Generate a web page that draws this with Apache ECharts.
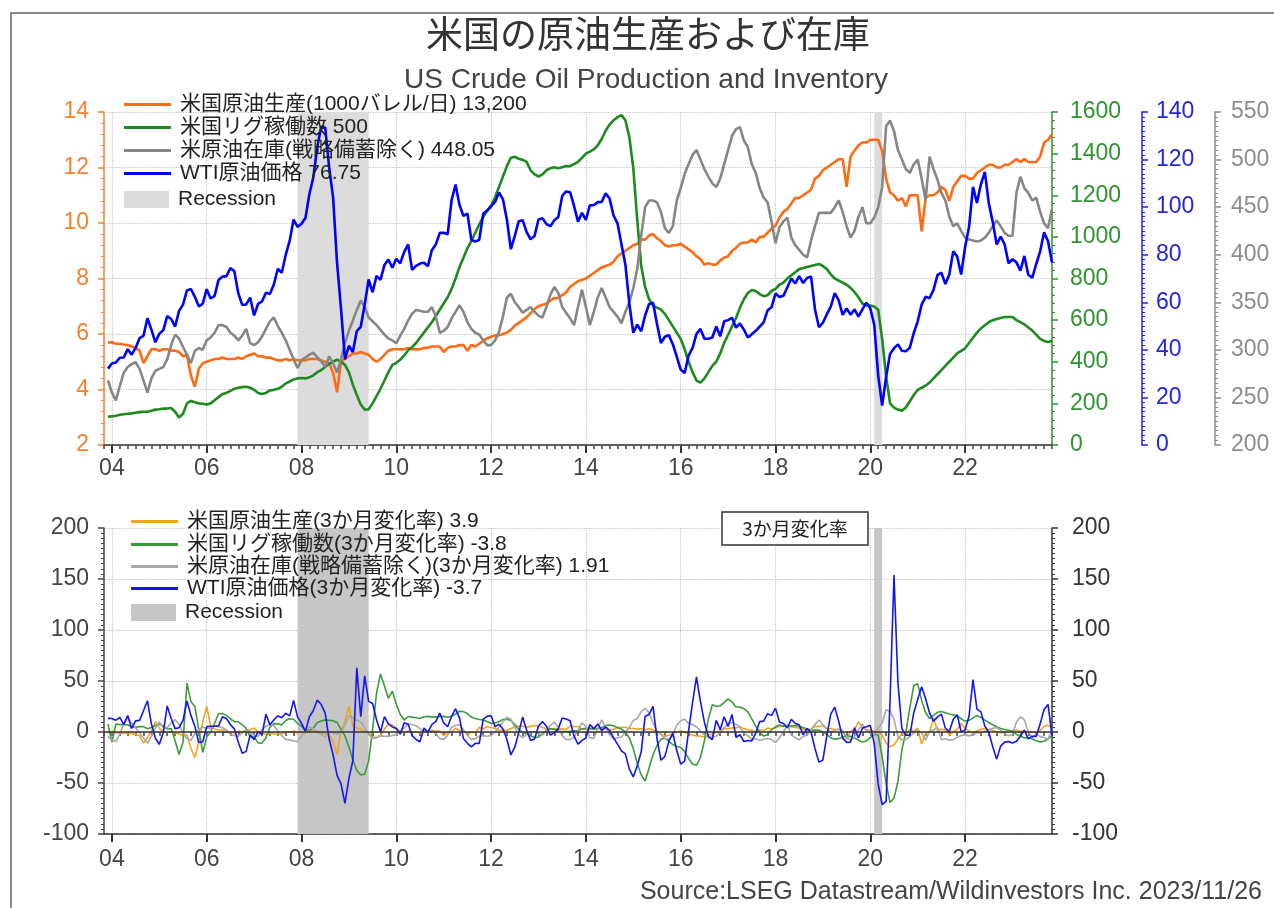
<!DOCTYPE html>
<html>
<head>
<meta charset="utf-8">
<script src="https://cdn.jsdelivr.net/npm/echarts@6/dist/echarts.min.js"></script>
<style>
html,body{margin:0;padding:0;background:#fff;}
#chart{width:1274px;height:908px;}
</style>
</head>
<body>
<div id="chart"></div>
<script>
// Monthly observations, Dec 2003 .. Nov 2023 (one row per year)

// WTI crude, USD/bbl
const wti = [
  32.1,
  34.3, 34.7, 36.7, 36.8, 40.3, 38.0, 40.8, 44.9, 45.9, 53.3, 48.5, 43.2,
  46.8, 48.2, 54.2, 53.0, 49.8, 56.4, 59.0, 65.0, 65.6, 62.3, 58.3, 59.4,
  65.5, 61.6, 62.7, 69.4, 70.8, 71.0, 74.4, 73.0, 63.8, 58.9, 59.1, 62.0,
  54.5, 59.3, 60.4, 64.0, 63.5, 67.5, 74.1, 72.4, 79.9, 85.8, 94.8, 91.7,
  93.0, 95.4, 105.5, 112.6, 125.4, 133.9, 133.4, 116.7, 104.1, 76.6, 57.3, 36.0,
  41.7, 39.1, 47.9, 49.7, 59.0, 69.6, 64.2, 71.1, 69.4, 75.7, 78.0, 74.5,
  78.3, 76.4, 81.2, 84.3, 73.7, 75.3, 76.3, 76.6, 75.2, 81.9, 84.3, 89.2,
  89.2, 88.6, 102.9, 109.5, 100.9, 96.3, 97.3, 86.3, 85.5, 86.3, 97.2, 98.6,
  100.3, 102.2, 106.2, 103.3, 94.7, 82.3, 87.9, 94.1, 94.5, 89.5, 86.5, 87.9,
  94.8, 95.3, 92.9, 92.0, 94.5, 95.8, 104.7, 106.6, 106.3, 100.5, 93.9, 97.6,
  94.6, 100.8, 100.8, 102.1, 102.2, 105.8, 103.6, 96.5, 93.2, 84.4, 75.8, 59.3,
  47.2, 50.6, 47.8, 54.5, 59.3, 59.8, 50.9, 42.9, 45.5, 46.2, 42.4, 37.2,
  31.7, 30.3, 37.6, 40.8, 46.7, 48.8, 44.7, 44.7, 45.2, 49.8, 45.7, 52.0,
  52.5, 53.5, 49.3, 51.1, 48.5, 45.2, 46.6, 48.0, 49.8, 51.6, 56.6, 57.9,
  63.7, 62.2, 62.7, 66.3, 70.0, 67.9, 71.0, 68.1, 70.2, 70.8, 57.0, 49.5,
  51.4, 55.0, 58.2, 63.9, 60.8, 54.7, 57.4, 54.8, 57.0, 54.0, 57.0, 59.9,
  57.5, 50.5, 29.2, 16.6, 28.6, 38.3, 40.7, 42.3, 39.6, 39.4, 40.9, 47.0,
  52.0, 59.0, 62.3, 61.7, 65.2, 71.4, 72.5, 67.7, 71.7, 81.5, 79.2, 71.7,
  83.2, 91.6, 108.5, 101.8, 109.6, 114.8, 101.6, 93.7, 84.3, 87.6, 84.4, 76.4,
  78.1, 76.8, 73.3, 79.5, 71.6, 70.3, 76.1, 81.4, 89.4, 85.6, 76.75
];

// US crude production, million bbl/day
const production = [
  5.70,
  5.70, 5.65, 5.65, 5.62, 5.60, 5.55, 5.50, 5.40, 4.95, 5.20, 5.45, 5.45,
  5.40, 5.45, 5.45, 5.40, 5.40, 5.35, 5.20, 5.25, 4.50, 4.10, 4.75, 4.95,
  5.00, 5.05, 5.10, 5.10, 5.15, 5.10, 5.10, 5.10, 5.15, 5.10, 5.20, 5.25,
  5.30, 5.20, 5.20, 5.15, 5.15, 5.10, 5.05, 5.05, 5.10, 5.05, 5.10, 5.05,
  5.05, 5.05, 5.10, 5.10, 5.10, 5.05, 5.00, 4.95, 4.60, 3.90, 5.00, 5.10,
  5.20, 5.30, 5.30, 5.35, 5.30, 5.25, 5.10, 5.00, 5.10, 5.25, 5.40, 5.45,
  5.45, 5.45, 5.45, 5.50, 5.45, 5.45, 5.45, 5.50, 5.50, 5.55, 5.55, 5.55,
  5.35, 5.50, 5.55, 5.55, 5.60, 5.60, 5.40, 5.60, 5.55, 5.65, 5.75, 5.85,
  5.90, 5.95, 5.95, 6.00, 6.05, 6.15, 6.30, 6.40, 6.50, 6.60, 6.75, 6.90,
  7.00, 7.05, 7.10, 7.20, 7.30, 7.30, 7.40, 7.50, 7.70, 7.80, 7.90, 7.95,
  8.00, 8.10, 8.20, 8.30, 8.40, 8.45, 8.50, 8.60, 8.80, 8.90, 9.00, 9.10,
  9.20, 9.25, 9.40, 9.40, 9.55, 9.60, 9.45, 9.35, 9.20, 9.15, 9.20, 9.20,
  9.25, 9.15, 9.05, 8.95, 8.80, 8.70, 8.50, 8.55, 8.50, 8.50, 8.65, 8.75,
  8.80, 9.00, 9.10, 9.25, 9.30, 9.30, 9.40, 9.30, 9.50, 9.50, 9.65, 9.80,
  9.90, 10.20, 10.40, 10.50, 10.70, 10.90, 10.90, 11.00, 11.10, 11.20, 11.60, 11.70,
  11.90, 12.00, 12.10, 12.20, 12.30, 12.30, 11.30, 12.40, 12.60, 12.80, 12.90, 12.90,
  13.00, 13.00, 13.00, 12.60, 11.60, 11.10, 11.00, 10.80, 10.90, 10.60, 11.00, 11.00,
  11.00, 9.70, 10.90, 11.00, 11.00, 11.10, 11.30, 11.20, 10.80, 11.30, 11.50, 11.70,
  11.70, 11.60, 11.60, 11.80, 11.90, 12.00, 12.10, 12.10, 12.00, 12.00, 12.10, 12.10,
  12.20, 12.30, 12.20, 12.30, 12.20, 12.20, 12.20, 12.40, 12.90, 13.00, 13.20
];

// US oil rig count
const rigs = [
  135,
  138, 140, 145, 148, 150, 152, 155, 158, 160, 160, 165, 170,
  172, 175, 175, 178, 160, 132, 150, 200, 212, 205, 200, 198,
  195, 200, 215, 230, 245, 250, 260, 270, 275, 278, 280, 275,
  265, 250, 245, 250, 262, 265, 270, 280, 295, 305, 315, 320,
  322, 320, 325, 335, 350, 360, 375, 390, 400, 410, 400, 385,
  350, 290, 240, 195, 170, 172, 200, 235, 270, 310, 350, 385,
  395, 410, 430, 455, 470, 490, 515, 540, 565, 590, 620, 650,
  680, 710, 750, 800, 855, 900, 945, 980, 1020, 1060, 1095, 1125,
  1150, 1190, 1240, 1290, 1340, 1380, 1385, 1375, 1370, 1360, 1320, 1300,
  1290, 1300, 1320, 1330, 1335, 1330, 1335, 1340, 1340, 1350, 1360, 1380,
  1400, 1410, 1420, 1440, 1470, 1510, 1540, 1560, 1575, 1585, 1560, 1480,
  1330, 1080, 860, 760, 700, 670, 660, 650, 630, 600, 570, 540,
  510, 460, 400, 350, 310, 300, 320, 350, 380, 400, 440, 490,
  530, 570, 610, 660, 700, 730, 745, 740, 725, 715, 720, 740,
  750, 770, 780, 800, 815, 830, 845, 850, 855, 860, 865, 870,
  860, 845, 820, 800, 790, 780, 770, 755, 735, 710, 680, 670,
  670, 665, 650, 510, 330, 200, 180, 170, 165, 180, 210, 240,
  265, 275, 285, 300, 320, 340, 360, 380, 400, 420, 440, 452,
  465, 490, 515, 540, 560, 575, 590, 600, 605, 610, 615, 615,
  615, 600, 590, 580, 565, 550, 530, 510, 500, 495, 500
];

// Commercial crude inventory excl. SPR, million bbl
const inventory = [
  268,
  255, 247, 262, 276, 282, 285, 287, 280, 268, 255, 270, 278,
  280, 282, 290, 305, 316, 312, 303, 295, 286, 299, 302, 300,
  310, 313, 318, 326, 326, 324, 318, 315, 310, 315, 322, 307,
  305, 308, 314, 322, 330, 334, 325, 318, 310, 300, 290, 281,
  289, 292, 295, 297, 292, 288, 282, 293, 286, 276, 290, 307,
  320, 331, 342, 352, 345, 334, 330, 326, 321, 316, 312, 310,
  307, 315, 322, 331, 338, 342, 341, 340, 340, 345, 335, 318,
  320, 324, 333, 340, 347, 340, 329, 322, 318, 316, 310, 305,
  305, 310, 319, 335, 355, 359, 350, 345, 339, 342, 345, 340,
  336, 334, 345, 358, 366, 360, 345, 339, 333, 326, 345, 363,
  345, 326, 340, 355, 365, 355, 345, 340, 335, 328, 340, 350,
  365, 385, 420, 450, 457, 457, 455, 445, 428, 423, 430, 457,
  470, 485, 495, 505, 510, 500, 490, 482, 475, 471, 480, 495,
  510, 525, 532, 534, 520, 513, 495, 486, 470, 460, 455, 435,
  412, 429, 435, 439, 418, 410, 405, 400, 397, 415, 430, 444,
  444, 444, 444, 450, 457, 445, 430, 418, 425, 440, 450, 433,
  433, 439, 450, 471, 535, 541, 530, 510, 500, 490, 486, 495,
  500, 480, 457, 503, 490, 479, 465, 457, 440, 430, 433, 425,
  418, 416, 415, 414, 415, 418, 423, 430, 436, 430, 423, 420,
  420, 465, 482, 470, 465, 457, 460, 445, 433, 428, 448.05
];

// 3-month rates of change, %
const productionChg = [
  -0.9,
  0, -0.9, -0.9, -1.4, -0.9, -1.8, -2.1, -3.6, -10.8, -5.5, 0.9, 10.1,
  3.8, 0, 0, 0, -0.9, -1.8, -3.7, -2.8, -15.9, -25.0, -9.5, 10.0,
  25.0, 6.3, 3.0, 2.0, 2.0, 0, 0, -1.0, 1.0, 0, 2.0, 1.9,
  3.9, 0, -1.0, -2.8, -1.0, -1.9, -1.9, -1.9, 0, 0, 1.0, -1.0,
  0, -1.0, 1.0, 1.0, 1.0, -1.0, -2.0, -2.9, -8.9, -22.0, 1.0, 10.9,
  25.0, 6.0, 3.9, 2.9, 0, -0.9, -4.7, -5.7, -2.9, 2.9, 8.0, 6.9,
  3.8, 0.9, 0, 0.9, 0, 0, -0.9, 0.9, 0.9, 1.8, 0.9, 0.9,
  -3.6, -0.9, 0, 3.7, 1.8, 0.9, -2.7, 0, -0.9, 4.6, 2.7, 5.4,
  4.4, 3.5, 1.7, 1.7, 1.7, 3.4, 5.0, 5.8, 5.7, 4.8, 5.5, 6.2,
  6.1, 4.4, 2.9, 2.9, 3.5, 2.8, 2.8, 2.7, 5.5, 5.4, 5.3, 3.2,
  2.6, 2.5, 3.1, 3.8, 3.7, 3.0, 2.4, 2.4, 4.1, 4.7, 4.7, 3.4,
  3.4, 2.8, 3.3, 2.2, 3.2, 2.1, 0.5, -2.1, -4.2, -3.2, -1.6, 0,
  1.1, -0.5, -1.6, -3.2, -3.8, -3.9, -5.0, -2.8, -2.3, 0, 1.2, 2.9,
  3.5, 4.0, 4.0, 5.1, 3.3, 2.2, 1.6, 0, 2.2, 1.1, 3.8, 3.2,
  4.2, 5.7, 6.1, 6.1, 4.9, 4.8, 3.8, 2.8, 1.8, 2.8, 5.5, 5.4,
  6.3, 3.4, 3.4, 2.5, 2.5, 1.7, -7.4, 0.8, 2.4, 10.0, 4.0, 2.4,
  1.6, 0.8, 0.8, -3.1, -10.8, -14.6, -12.7, -6.9, -1.8, -3.6, 1.9, 0.9,
  3.8, -11.8, -0.9, 0, 13.4, 1.8, 2.7, 1.8, -2.7, 0, 2.7, 8.3,
  3.5, 0.9, -0.9, 0.9, 2.6, 3.4, 2.5, 1.7, 0, -0.8, 0, 0.8,
  1.7, 1.7, 0.8, 0.8, -0.8, 0, -0.8, 1.6, 5.7, 6.6, 3.9
];

const rigsChg = [
  8.0,
  -10.0, 7.7, 7.4, 7.2, 7.1, 4.8, 4.7, 5.3, 5.3, 3.2, 4.4, 6.3,
  7.5, 6.1, 2.9, 3.5, -8.6, -22.0, -10.0, 48.0, 30.0, 25.0, 2.0, -20.0,
  -5.0, 0, 8.6, 17.9, 18.0, 16.3, 13.0, 10.2, 10.0, 6.9, 3.7, -5.0,
  -4.7, -10.7, -10.9, -5.7, 4.8, 8.2, 8.0, 6.9, 11.3, 13.0, 12.5, 8.5,
  5.6, 1.6, 1.6, 4.0, 9.4, 10.8, 11.9, 11.4, 11.1, 9.3, 2.6, -3.8,
  -14.6, -27.5, -37.7, -42.0, -41.4, -28.3, 2.6, 38.2, 57.0, 45.0, 33.0, 40.0,
  27.4, 17.1, 11.7, 15.2, 14.6, 14.0, 13.2, 14.9, 15.3, 14.6, 14.8, 15.0,
  15.3, 14.5, 15.4, 17.6, 20.4, 20.0, 18.1, 14.6, 13.3, 12.2, 11.7, 10.3,
  8.5, 8.7, 10.2, 12.2, 12.6, 11.3, 7.4, 2.6, -0.7, -1.8, -4.0, -5.1,
  -5.1, -1.5, 1.5, 3.1, 2.7, 0.8, 0.4, 0.4, 0.8, 1.1, 1.5, 3.0,
  3.7, 3.7, 2.9, 2.9, 4.3, 6.3, 6.9, 6.1, 4.3, 2.9, 0, -6.0,
  -16.1, -30.8, -41.9, -48.0, -35.2, -22.1, -13.2, -7.1, -6.0, -9.1, -12.3, -14.3,
  -15.0, -19.3, -25.9, -31.4, -32.6, -25.0, -8.6, 12.9, 26.7, 25.0, 25.7, 28.9,
  32.5, 29.5, 24.5, 24.5, 22.8, 19.7, 12.9, 5.7, -0.7, -4.0, -2.7, 2.1,
  4.9, 6.9, 5.4, 6.7, 5.8, 6.4, 5.6, 4.3, 3.0, 1.8, 1.8, 1.8,
  0, -2.3, -5.7, -7.0, -6.5, -4.9, -3.8, -4.4, -5.8, -7.8, -9.9, -8.8,
  -5.6, -2.2, -3.0, -23.9, -50.4, -69.2, -64.7, -48.5, -17.5, 0, 23.5, 45.5,
  47.2, 31.0, 18.8, 13.2, 16.4, 19.3, 20.0, 18.8, 17.6, 16.7, 15.8, 13.0,
  10.7, 11.4, 13.9, 16.1, 14.3, 11.7, 9.3, 7.1, 5.2, 3.4, 2.5, 1.7,
  0.8, -2.4, -4.1, -5.7, -5.8, -6.8, -8.6, -9.7, -9.1, -6.6, -3.8
];

const inventoryChg = [
  -4.3,
  -7.9, -9.2, -2.2, 8.2, 14.2, 8.8, 4.0, -0.7, -6.0, -11.1, -3.6, 3.7,
  9.8, 4.4, 4.3, 8.9, 12.1, 7.6, -0.7, -6.6, -8.3, -1.3, 2.4, 4.9,
  3.7, 3.6, 6.0, 5.2, 4.2, 1.9, -2.5, -3.4, -4.3, -0.9, 2.2, -1.0,
  -3.2, -4.3, 2.3, 5.6, 7.1, 6.4, 0.9, -3.6, -7.2, -7.7, -8.8, -9.4,
  -3.7, 0.7, 5.0, 2.8, 0, -2.4, -5.1, 0.3, -0.7, -2.1, -1.0, 7.3,
  15.9, 14.1, 11.4, 10.0, 4.2, -2.3, -6.3, -5.5, -3.9, -4.2, -4.3, -3.4,
  -2.8, 1.0, 3.9, 7.8, 7.3, 6.2, 3.0, 0.6, -0.6, 1.2, -1.5, -6.5,
  -7.2, -3.3, 4.7, 6.3, 7.1, 2.1, -3.2, -7.2, -6.5, -4.0, -3.7, -4.1,
  -3.5, 0, 4.6, 9.8, 14.5, 12.5, 4.5, -2.8, -5.6, -2.3, 0, 0.3,
  -1.8, -3.2, 1.5, 6.5, 9.6, 4.3, -3.6, -7.4, -7.5, -5.5, 1.8, 9.0,
  5.8, -5.5, -6.3, 2.9, 12.0, 4.4, -2.8, -6.8, -5.6, -4.9, 0, 4.5,
  11.3, 13.2, 20.0, 23.3, 18.7, 8.8, 1.1, -2.6, -6.3, -7.0, -3.4, 6.8,
  11.1, 12.8, 8.3, 7.4, 5.2, 1.0, -3.0, -5.5, -5.0, -3.9, -0.4, 4.2,
  8.3, 9.4, 7.5, 4.7, -1.0, -3.6, -7.3, -6.5, -8.4, -7.1, -6.4, -7.4,
  -10.4, -5.7, 0, 6.6, -2.6, -5.7, -7.7, -4.3, -3.2, 2.5, 7.5, 11.8,
  7.0, 3.3, 0, 1.4, 2.9, 0.2, -4.4, -8.5, -4.5, 2.3, 7.7, 1.9,
  -1.6, -2.4, 3.9, 8.8, 21.9, 20.2, 12.5, -4.7, -7.6, -7.5, -4.7, -1.0,
  2.0, -1.2, -7.7, 0.6, 2.1, 4.8, -7.6, -6.7, -8.1, -7.5, -5.3, -3.4,
  -2.8, -3.9, -2.4, -1.0, -0.2, 0.7, 2.2, 3.6, 4.3, 1.7, -1.6, -3.7,
  -2.3, 9.9, 14.8, 11.9, 0, -5.2, -2.1, -4.3, -5.3, -7.0, 1.91
];

const wtiChg = [
  13.4,
  13.2, 11.6, 14.3, 7.3, 16.1, 3.5, 10.9, 11.4, 20.8, 30.6, 8.0, -5.9,
  -12.2, -0.6, 25.5, 13.2, 3.3, 4.1, 11.3, 30.5, 16.3, 5.6, -10.3, -9.5,
  5.1, 5.7, 5.6, 6.0, 14.9, 13.2, 7.2, 3.1, -10.1, -20.8, -19.0, -2.8,
  -7.5, 0.3, -2.6, 17.4, 7.1, 11.8, 15.8, 14.0, 18.4, 15.8, 30.9, 14.8,
  8.4, 0.6, 15.0, 21.1, 31.4, 26.9, 18.5, -6.9, -22.3, -42.6, -50.9, -70.0,
  -45.6, -28.0, 63.0, 15.0, 55.0, 30.0, 28.0, 12.0, 0, 15.0, 8.0, 5.0,
  3.4, -2.1, 9.0, 7.7, -3.5, -7.3, -9.5, 3.9, -0.1, 7.3, 10.1, 18.6,
  8.9, 5.1, 15.4, 22.8, 13.9, -6.4, -11.1, -14.5, -11.2, -11.3, 12.6, 15.3,
  16.2, 5.1, 7.7, 3.0, -7.3, -22.5, -14.9, -0.6, 14.8, 1.8, -8.1, -7.0,
  5.9, 10.2, 5.7, -3.0, -0.8, 3.1, 13.8, 12.8, 11.0, -4.0, -11.9, -8.2,
  -5.9, 7.3, 3.3, 7.9, 1.4, 5.0, 1.5, -5.6, -11.9, -18.5, -21.5, -36.4,
  -44.1, -33.2, -19.4, 15.5, 17.2, 25.1, -6.6, -27.7, -23.9, -9.2, -1.2, -18.2,
  -31.4, -28.5, 1.1, 28.7, 54.1, 29.8, 9.6, -4.3, -7.4, 11.4, 2.2, 15.0,
  5.4, 17.1, -5.2, -2.7, -9.3, -8.3, -8.8, -1.0, 10.2, 10.7, 17.9, 16.3,
  23.4, 9.9, 8.3, 4.1, 12.5, 8.3, 7.1, -2.7, 3.4, -0.3, -16.3, -29.5,
  -27.4, -3.5, 17.6, 24.3, 10.5, -6.0, -10.2, -9.9, 4.2, -5.9, 4.0, 5.1,
  6.5, -11.4, -51.3, -71.1, -68.0, 31.2, 154.0, 47.9, 3.4, -3.2, -3.3, 18.7,
  32.0, 44.3, 32.6, 18.7, 10.5, 14.6, 17.5, 3.8, 0.4, 12.4, 17.0, 0,
  2.1, 15.7, 51.3, 22.4, 19.7, 5.8, -0.2, -14.5, -26.6, -13.8, -9.9, -9.4,
  -10.8, -9.0, -4.1, 1.8, -6.8, -4.1, -4.3, 8.0, 22.0, 27.0, -3.7
];

// Recession periods
const recessions = [['2007-12', '2009-06'], ['2020-02', '2020-04']];

// Axis ticks
const yTicksProduction = { min: 2, max: 14, step: 2 };
const yTicksRigs = { min: 0, max: 1600, step: 200 };
const yTicksWti = { min: 0, max: 140, step: 20 };
const yTicksInventory = { min: 200, max: 550, step: 50 };
const yTicksChange = { min: -100, max: 200, step: 50 };

// Series labels
const NAME_PROD = '米国原油生産(1000バレル/日) 13,200';
const NAME_RIGS = '米国リグ稼働数 500';
const NAME_INV = '米原油在庫(戦略備蓄除く) 448.05';
const NAME_WTI = 'WTI原油価格 76.75';
const NAME_PROD_C = '米国原油生産(3か月変化率) 3.9';
const NAME_RIGS_C = '米国リグ稼働数(3か月変化率) -3.8';
const NAME_INV_C = '米原油在庫(戦略備蓄除く)(3か月変化率) 1.91';
const NAME_WTI_C = 'WTI原油価格(3か月変化率) -3.7';
const NAME_REC = 'Recession';
const NAME_REC2 = 'Recession (change panel)';

// Month categories Nov 2003 .. Nov 2023
const months = [];
for (let y = 2003, m = 11; y < 2023 || (y === 2023 && m <= 11);) {
  months.push(y + '-' + String(m).padStart(2, '0'));
  m++;
  if (m > 12) { m = 1; y++; }
}
const pad = arr => [null].concat(arr);

const FONT = "'Liberation Sans', 'Noto Sans CJK JP', sans-serif";
const CJK = "'Noto Sans CJK JP', sans-serif";

const C = {
  prod: '#FF6A13', rigs: '#1E8A1E', inv: '#868686', wti: '#0000FF',
  prodC: '#F5A31E', rigsC: '#3C9C3C', invC: '#A8A8A8', wtiC: '#1515EE',
  recTop: '#DCDCDC', recBottom: '#C6C6C6', grid: '#C4C4C4'
};

const isMajor = (i, v) => v.slice(5) === '01' && (+v.slice(0, 4)) % 2 === 0;
const isMinor = (i, v) => (+v.slice(5)) % 2 === 1;

function xMajor(gridIndex, margin) {
  return {
    type: 'category', gridIndex, data: months, boundaryGap: false, position: 'bottom',
    axisLine: { onZero: false, lineStyle: { color: '#333', width: 1.5 } },
    axisTick: { show: true, interval: isMajor, length: 8, lineStyle: { color: '#333', width: 2 } },
    axisLabel: { interval: isMajor, formatter: v => v.slice(2, 4), color: '#444', fontSize: 23, fontFamily: FONT, margin },
    splitLine: { show: true, interval: isMajor, lineStyle: { color: C.grid, type: 'dotted', width: 1.2 } }
  };
}
function xMinor(gridIndex) {
  return {
    type: 'category', gridIndex, data: months, boundaryGap: false, position: 'bottom',
    axisLine: { show: false },
    axisTick: { show: true, interval: isMinor, length: 4, lineStyle: { color: '#444', width: 1.5 } },
    axisLabel: { show: false }, splitLine: { show: false }
  };
}
function yAxis(t, opt) {
  return Object.assign({
    type: 'value', min: t.min, max: t.max, interval: t.step,
    axisLine: { show: true, lineStyle: { color: opt.color, width: 1.5 } },
    axisTick: { show: true, length: 6, lineStyle: { color: opt.color, width: 1.5 } },
    minorTick: { show: true, splitNumber: opt.minor || 5, length: 3, lineStyle: { color: opt.color, width: 1 } },
    axisLabel: { color: opt.labelColor || opt.color, fontSize: 23, fontFamily: FONT, margin: opt.margin, formatter: v => String(v) },
    splitLine: { show: !!opt.split, lineStyle: { color: C.grid, type: 'dotted', width: 1.2 } }
  }, opt.extra || {});
}
function lineSeries(name, data, color, width, xi, yi, z) {
  return {
    name, type: 'line', xAxisIndex: xi, yAxisIndex: yi, data: pad(data),
    symbol: 'none', showSymbol: false, z: z || 3, animation: false,
    itemStyle: { color }, lineStyle: { color, width }, emphasis: { disabled: true }
  };
}
function recessionSeries(name, color, xi, yi, extra) {
  return Object.assign({
    name, type: 'line', xAxisIndex: xi, yAxisIndex: yi, data: months.map(() => null),
    symbol: 'none', z: 1, itemStyle: { color }, lineStyle: { color, width: 0 },
    markArea: {
      silent: true, itemStyle: { color },
      data: recessions.map(r => [{ xAxis: r[0] }, { xAxis: r[1] }])
    }
  }, extra || {});
}
function legendItem(name, left, top, line, label) {
  return {
    data: [name], left, top, orient: 'vertical', padding: 0,
    icon: 'rect', itemWidth: line ? 47 : 45, itemHeight: line ? 3 : 17,
    itemStyle: { borderWidth: 0 },
    selectedMode: false,
    formatter: label ? () => label : undefined,
    textStyle: { fontSize: 21, color: '#222', fontFamily: FONT, padding: [0, 0, 0, 4] }
  };
}

const chart = echarts.init(document.getElementById('chart'), null, { renderer: 'canvas' });

chart.setOption({
  animation: false,
  backgroundColor: '#fff',
  textStyle: { fontFamily: FONT },
  title: [
    { text: '米国の原油生産および在庫', left: 648, top: 15, textAlign: 'center', padding: 0,
      textStyle: { fontSize: 37, fontWeight: 'normal', color: '#333', fontFamily: CJK } },
    { text: 'US Crude Oil Production and Inventory', left: 646, top: 66, textAlign: 'center', padding: 0,
      textStyle: { fontSize: 28, fontWeight: 'normal', color: '#444', fontFamily: FONT } },
    { text: 'Source:LSEG Datastream/Wildinvestors Inc. 2023/11/26', right: 12, top: 880, padding: 0,
      textStyle: { fontSize: 25, fontWeight: 'normal', color: '#444', fontFamily: FONT } }
  ],
  grid: [
    { left: 104, top: 112, width: 948, height: 333, outerBoundsMode: 'none', containLabel: false },
    { left: 104, top: 528, width: 948, height: 306, outerBoundsMode: 'none', containLabel: false }
  ],
  xAxis: [xMajor(0, 12), xMinor(0), xMajor(1, 14), xMinor(1)],
  yAxis: [
    yAxis(yTicksProduction, { color: '#F47F2E', margin: 15, split: true, extra: { gridIndex: 0, position: 'left' } }),
    yAxis(yTicksRigs, { color: '#2E942E', margin: 18, minor: 5, extra: { gridIndex: 0, position: 'right', offset: 0 } }),
    yAxis(yTicksWti, { color: '#2323E0', margin: 14, minor: 10, extra: { gridIndex: 0, position: 'right', offset: 90 } }),
    yAxis(yTicksInventory, { color: '#8C8C8C', margin: 16, minor: 10, extra: { gridIndex: 0, position: 'right', offset: 163 } }),
    yAxis(yTicksChange, { color: '#444', margin: 15, minor: 10, split: true,
      extra: { gridIndex: 1, position: 'left' } }),
    yAxis(yTicksChange, { color: '#333', margin: 20, minor: 10, extra: { gridIndex: 1, position: 'right', offset: 0 } })
  ],
  legend: [
    legendItem(NAME_PROD, 124, 94, true),
    legendItem(NAME_RIGS, 124, 117, true),
    legendItem(NAME_INV, 124, 140, true),
    legendItem(NAME_WTI, 124, 163, true),
    legendItem(NAME_REC, 124, 189, false),
    legendItem(NAME_PROD_C, 131, 511, true),
    legendItem(NAME_RIGS_C, 131, 534, true),
    legendItem(NAME_INV_C, 131, 556, true),
    legendItem(NAME_WTI_C, 131, 578, true),
    legendItem(NAME_REC2, 131, 602, false, 'Recession')
  ],
  graphic: [
    { type: 'rect', shape: { x: 11, y: 13, width: 1400, height: 1000 }, silent: true,
      style: { fill: 'none', stroke: '#8A8A8A', lineWidth: 2 } },
    { type: 'rect', shape: { x: 722, y: 512, width: 146, height: 33 }, silent: true, z: 10,
      style: { fill: '#fff', stroke: '#333', lineWidth: 1.5 } },
    { type: 'text', x: 795, y: 529, silent: true, z: 11,
      style: { text: '3か月変化率', fill: '#222', fontSize: 19, fontFamily: CJK, align: 'center', verticalAlign: 'middle' } }
  ],
  series: [
    recessionSeries(NAME_REC, C.recTop, 0, 0),
    lineSeries(NAME_PROD, production, C.prod, 2.6, 0, 0),
    lineSeries(NAME_RIGS, rigs, C.rigs, 2.6, 0, 1),
    lineSeries(NAME_INV, inventory, C.inv, 2.6, 0, 3),
    lineSeries(NAME_WTI, wti, C.wti, 2.6, 0, 2),
    recessionSeries(NAME_REC2, C.recBottom, 2, 4, {
      markLine: {
        silent: true, symbol: 'none', label: { show: false },
        lineStyle: { color: '#333', width: 1.5, type: 'solid' },
        data: [{ yAxis: 0 }]
      }
    }),
    lineSeries(NAME_PROD_C, productionChg, C.prodC, 1.6, 2, 4),
    lineSeries(NAME_RIGS_C, rigsChg, C.rigsC, 1.6, 2, 4),
    lineSeries(NAME_INV_C, inventoryChg, C.invC, 1.6, 2, 4),
    lineSeries(NAME_WTI_C, wtiChg, C.wtiC, 1.6, 2, 4)
  ]
});
</script>
</body>
</html>
